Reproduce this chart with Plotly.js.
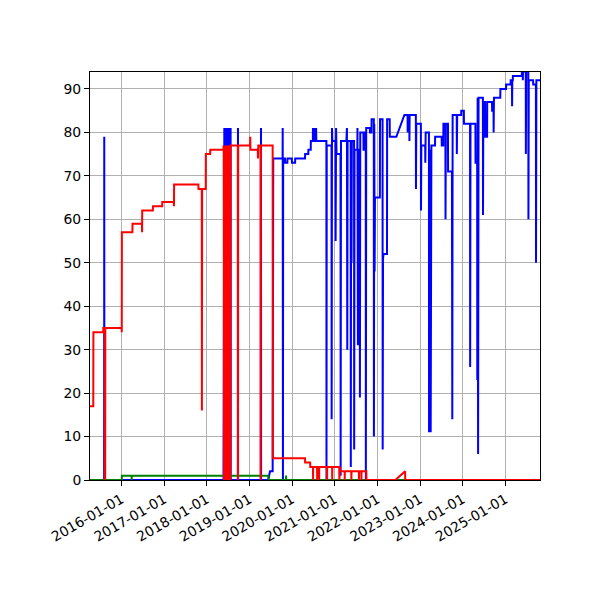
<!DOCTYPE html>
<html>
<head>
<meta charset="utf-8">
<script src="https://cdn.plot.ly/plotly-3.0.1.min.js"></script>
<style>
  html, body { margin: 0; padding: 0; background: #fff; }
  #chart { width: 600px; height: 600px; }
</style>
</head>
<body>
<div id="chart"></div>
<script>
// x axis ticks
var xTicks = ['2016-01-01','2017-01-01','2018-01-01','2019-01-01','2020-01-01',
              '2021-01-01','2022-01-01','2023-01-01','2024-01-01','2025-01-01'];
var xStart = '2015-04-07';
var xEnd = '2025-10-24';
var yTicks = [0,10,20,30,40,50,60,70,80,90];

// blue series
var blueDates = [
  '2015-04-07','2015-08-06','2015-08-07','2015-08-08',
  '2018-05-24','2018-05-25','2018-05-28','2018-05-31','2018-06-03','2018-06-06','2018-06-09','2018-06-12',
  '2018-06-15','2018-06-18','2018-06-21','2018-06-24','2018-06-27','2018-06-30','2018-07-03','2018-07-06',
  '2018-07-09','2018-07-12','2018-07-15','2018-07-18','2018-07-21','2018-07-24','2018-07-25',
  '2018-09-24','2018-09-25','2018-09-26',
  '2019-04-09','2019-04-10','2019-04-11',
  '2019-06-12','2019-06-26','2019-07-19','2019-07-24',
  '2019-10-12','2019-10-13','2019-10-15','2019-10-17',
  '2019-11-02','2019-11-03','2019-11-22','2019-11-23',
  '2019-12-30','2019-12-31','2020-01-27','2020-01-28',
  '2020-04-21','2020-04-22','2020-05-19','2020-05-20','2020-06-09','2020-06-10',
  '2020-06-27','2020-06-28','2020-06-30','2020-07-10','2020-07-11','2020-07-13','2020-07-24','2020-07-25','2020-07-27',
  '2020-10-21','2020-10-22','2020-10-24',
  '2020-12-04','2020-12-05','2020-12-08','2020-12-11',
  '2021-01-07','2021-01-08','2021-01-12','2021-01-16',
  '2021-02-19','2021-02-20','2021-02-23',
  '2021-04-10','2021-04-11','2021-04-15','2021-04-18','2021-04-21',
  '2021-05-17','2021-05-18','2021-05-21','2021-05-24','2021-05-27',
  '2021-06-15','2021-06-16','2021-06-19',
  '2021-07-13','2021-07-14','2021-07-18','2021-07-21',
  '2021-08-03','2021-08-04','2021-08-07',
  '2021-09-03','2021-09-04','2021-09-15','2021-09-16',
  '2021-09-23','2021-09-24','2021-09-27',
  '2021-10-28','2021-10-29','2021-11-11','2021-11-12',
  '2021-12-01','2021-12-02','2021-12-05','2021-12-08','2021-12-11',
  '2022-01-22','2022-01-23',
  '2022-02-14','2022-02-15','2022-02-18','2022-02-22','2022-03-24','2022-03-25',
  '2022-04-16','2022-04-17','2022-06-12','2022-08-20',
  '2022-09-16','2022-09-17','2022-09-19','2022-10-01','2022-10-02','2022-10-04',
  '2022-11-26','2022-11-27','2022-11-30',
  '2023-01-08','2023-01-09','2023-01-12',
  '2023-02-14','2023-02-15','2023-02-18',
  '2023-03-18','2023-03-19','2023-03-26','2023-04-02','2023-04-08',
  '2023-05-09','2023-05-10','2023-07-05','2023-07-06','2023-07-19','2023-07-20',
  '2023-08-06','2023-08-07','2023-08-10','2023-08-28','2023-08-29','2023-10-01','2023-10-04','2023-10-07',
  '2023-11-11','2023-11-12','2023-11-15','2023-12-19','2023-12-20','2024-01-11','2024-01-12',
  '2024-03-04','2024-03-05','2024-03-08','2024-04-19','2024-04-20',
  '2024-05-04','2024-05-05','2024-05-08','2024-05-12','2024-05-16',
  '2024-06-22','2024-06-23','2024-06-26','2024-07-11','2024-07-12','2024-07-28','2024-07-29',
  '2024-09-08','2024-09-09','2024-09-21','2024-09-22','2024-09-25',
  '2024-11-18','2024-11-19','2025-01-06','2025-01-07','2025-02-14','2025-02-15',
  '2025-02-26','2025-02-27','2025-03-01','2025-03-05','2025-03-06',
  '2025-05-21','2025-05-22','2025-05-29','2025-05-30','2025-06-01',
  '2025-06-24','2025-06-25','2025-06-28','2025-07-16','2025-07-17','2025-07-20',
  '2025-08-26','2025-08-27','2025-09-19','2025-09-20','2025-09-23','2025-10-24'
];
var blueVals = [
  0,0,79,0,
  0,81,0,81,0,81,0,81,
  0,81,0,81,0,81,0,81,
  0,81,0,81,0,81,0,
  0,81,0,
  0,81,0,
  0,2,2,74,
  74,81,0,74,
  74,73,73,74,
  74,73,73,74,
  74,75,75,76,76,78,
  78,81,78,78,81,78,78,81,78,
  78,0,77,
  77,14,81,78,
  78,55,81,75,
  75,1,78,
  78,81,81,30,78,
  78,3,78,50,78,
  78,7,76,
  76,81,31,76,
  76,19,80,
  80,76,76,80,
  80,0,81,
  81,80,80,83,
  83,10,82,48,65,
  65,83,
  83,7,51,52,52,83,
  83,79,79,84,
  84,80,84,84,78,84,
  84,67,82,
  82,62,77,
  77,73,80,
  80,11,76,11,77,
  77,79,79,77,77,82,
  82,60,82,82,71,71,14,84,
  84,75,84,84,85,85,82,
  82,26,82,82,73,
  73,23,88,6,88,
  88,61,87,87,79,79,87,
  87,85,85,80,88,
  88,90,90,91,91,92,
  92,86,92,92,93,
  93,94,94,92,94,
  94,75,94,94,60,92,
  92,91,91,50,92,92
];

// green series
var greenDates = ['2015-04-07','2016-01-04','2016-01-05','2016-03-28','2016-03-29','2016-03-30',
                  '2019-06-11','2019-06-12','2019-11-10','2019-11-11','2019-11-12','2025-10-24'];
var greenVals = [0,0,1,1,0,1,1,0,0,1,0,0];

// red series
var redDates = [
  '2015-04-07','2015-05-05','2015-05-06','2015-07-29','2015-07-30',
  '2015-08-12','2015-08-13','2015-08-15','2015-08-16',
  '2016-01-03','2016-01-04','2016-01-05',
  '2016-04-04','2016-04-05','2016-06-25','2016-06-26','2016-06-27',
  '2016-09-26','2016-09-27','2016-12-15','2016-12-16',
  '2017-03-25','2017-03-26','2017-03-27',
  '2017-10-21','2017-10-22','2017-11-19','2017-11-20','2017-11-22',
  '2017-12-23','2017-12-24','2018-01-30','2018-01-31',
  '2018-05-22','2018-05-23','2018-05-26','2018-05-29','2018-06-01','2018-06-04','2018-06-07','2018-06-10',
  '2018-06-13','2018-06-16','2018-06-19','2018-06-22','2018-06-25','2018-06-28','2018-07-01','2018-07-04',
  '2018-07-07','2018-07-10','2018-07-13','2018-07-16','2018-07-19','2018-07-22','2018-07-24',
  '2018-09-24','2018-09-25','2018-09-27',
  '2019-01-07','2019-01-08','2019-01-10','2019-02-19','2019-03-14','2019-03-15','2019-03-18',
  '2019-04-06','2019-04-07','2019-04-09',
  '2019-07-19','2019-07-20',
  '2020-04-21','2020-04-22','2020-06-04','2020-06-05',
  '2020-06-28','2020-06-29','2020-06-30',
  '2020-08-02','2020-08-03','2020-08-04',
  '2020-08-19','2020-08-20','2020-08-21',
  '2020-10-26','2020-10-27','2020-10-28',
  '2020-12-09','2020-12-10','2020-12-11',
  '2021-02-08','2021-02-09','2021-02-10','2021-02-14','2021-02-15',
  '2021-03-26','2021-03-27','2021-03-28',
  '2021-05-22','2021-05-23','2021-05-24',
  '2021-07-26','2021-07-27','2021-07-28',
  '2021-08-16','2021-08-17','2021-08-18',
  '2021-09-28','2021-09-29',
  '2022-06-04','2022-08-26','2022-08-27','2025-10-24'
];
var redVals = [
  17,17,34,34,35,
  35,0,0,35,
  35,34,57,
  57,59,59,57,62,
  62,63,63,64,
  64,63,68,
  68,67,67,16,67,
  67,75,75,76,
  76,0,77,0,77,0,77,0,
  77,0,77,0,77,0,77,0,
  77,0,77,0,77,0,77,
  77,0,77,
  77,79,76,76,76,74,77,
  77,0,77,
  77,5,
  5,4,4,3,
  3,0,3,
  3,0,3,
  3,0,3,
  3,0,3,
  3,0,3,
  3,0,3,3,2,
  2,0,2,
  2,0,2,
  2,0,2,
  2,0,2,
  2,0,
  0,2,0,0
];

var lineW = 2;
var traces = [
  {x: blueDates, y: blueVals, type: 'scatter', mode: 'lines',
   line: {color: 'blue', width: lineW}},
  {x: greenDates, y: greenVals, type: 'scatter', mode: 'lines',
   line: {color: 'green', width: lineW}},
  {x: redDates, y: redVals, type: 'scatter', mode: 'lines',
   line: {color: 'red', width: lineW}}
];

var axisStyle = {
  showgrid: true,
  gridcolor: '#b0b0b0',
  gridwidth: 1,
  showline: true,
  linecolor: 'black',
  linewidth: 1,
  mirror: true,
  ticks: 'outside',
  ticklen: 5,
  tickwidth: 1,
  tickcolor: 'black',
  zeroline: false
};

var layout = {
  width: 600,
  height: 600,
  margin: {l: 90, r: 60, t: 72, b: 120},
  paper_bgcolor: 'white',
  plot_bgcolor: 'white',
  showlegend: false,
  font: {family: 'DejaVu Sans', size: 13.9, color: 'black'},
  xaxis: Object.assign({}, axisStyle, {
    type: 'date',
    range: [xStart, xEnd],
    tickmode: 'array',
    tickvals: xTicks,
    ticktext: xTicks,
    tickangle: -30
  }),
  yaxis: Object.assign({}, axisStyle, {
    range: [0, 93.9],
    tickmode: 'array',
    tickvals: yTicks,
    ticktext: yTicks.map(String)
  })
};

Plotly.newPlot('chart', traces, layout, {staticPlot: true});
</script>
</body>
</html>
